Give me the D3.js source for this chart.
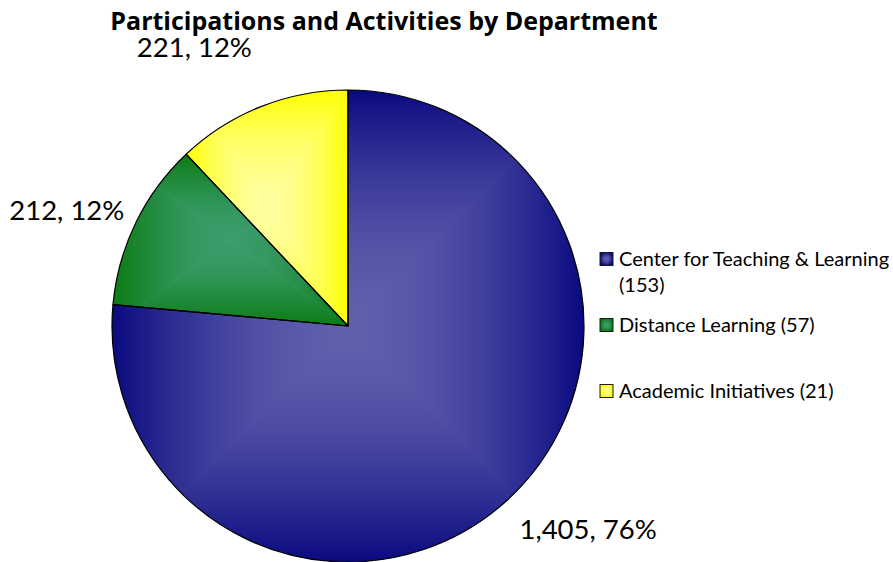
<!DOCTYPE html>
<html>
<head>
<meta charset="utf-8">
<script src="https://cdn.jsdelivr.net/npm/d3@7/dist/d3.min.js"></script>
<style>
  html, body { margin: 0; padding: 0; background: #ffffff; }
  svg { display: block; }
  text { font-family: Lato, "Open Sans", "DejaVu Sans", sans-serif; fill: #000; }
  .title { font-family: "Open Sans", Lato, "DejaVu Sans", sans-serif; font-weight: bold; }
</style>
</head>
<body>
<svg id="chart" width="893" height="562"></svg>
<script>
// Departments, in drawing order (clockwise from 12 o'clock)
const departments = ["Center for Teaching & Learning", "Distance Learning", "Academic Initiatives"];
const departmentCounts = [153, 57, 21];
const participations = [1405, 212, 221];

// Slice colours: edge tone and the lighter tone at the gradient centre
const edgeColors = ["#0a0a80", "#0b7a12", "#ffff00"];
const centerColors = ["#6060ae", "#3a9c6c", "#ffffa0"];

const chartTitle = "Participations and Activities by Department";

// Layout
const W = 893, H = 562;
const cx = 348, cy = 326, R = 236;
// radial distance of each data label and a small angular nudge (radians)
const labelRadius = [260, 250, 286];
const labelNudge = [0.02, 0.01, 0.035];

const svg = d3.select("#chart");
const defs = svg.append("defs");

const total = d3.sum(participations);
const fmt = d3.format(",");

const pie = d3.pie().sort(null).value(d => d)(participations);
const arc = d3.arc().innerRadius(0).outerRadius(R);

svg.append("text")
  .attr("class", "title")
  .attr("x", 384).attr("y", 30)
  .attr("text-anchor", "middle")
  .style("font-size", "25px")
  .text(chartTitle);

// Shade profile from the gradient centre (0) out to the edge (1)
const shadeStops = d3.range(0, 1.0001, 0.1);
function addStops(grad, inner, outer) {
  const mix = d3.interpolateRgb(inner, outer);
  shadeStops.forEach(t => {
    grad.append("stop").attr("offset", t).attr("stop-color", mix(Math.pow(t, 1.7)));
  });
}

// Rectangular "path" gradient: the slice's bounding box is split into four
// triangles meeting at its centre, each shaded from the centre to its edge.
function pathGradientFill(parent, id, box, inner, outer) {
  const mx = box.x + box.width / 2, my = box.y + box.height / 2;
  const x0 = box.x, x1 = box.x + box.width, y0 = box.y, y1 = box.y + box.height;
  const parts = [
    { pts: [[x0, y0], [x1, y0], [mx, my]], to: [mx, y0] },
    { pts: [[x1, y0], [x1, y1], [mx, my]], to: [x1, my] },
    { pts: [[x1, y1], [x0, y1], [mx, my]], to: [mx, y1] },
    { pts: [[x0, y1], [x0, y0], [mx, my]], to: [x0, my] }
  ];
  parts.forEach((p, k) => {
    const gid = `${id}-g${k}`;
    const lg = defs.append("linearGradient")
      .attr("id", gid)
      .attr("gradientUnits", "userSpaceOnUse")
      .attr("x1", mx).attr("y1", my)
      .attr("x2", p.to[0]).attr("y2", p.to[1]);
    addStops(lg, inner, outer);
    // slightly enlarged to avoid hairline seams between triangles
    const grown = p.pts.map(q => [mx + (q[0] - mx) * 1.01, my + (q[1] - my) * 1.01]);
    parent.append("polygon")
      .attr("points", grown.map(q => q.join(",")).join(" "))
      .attr("fill", `url(#${gid})`)
      .attr("stroke", `url(#${gid})`)
      .attr("stroke-width", 0.8);
  });
}

pie.forEach((d, i) => {
  const pathD = arc(d);
  const tmp = svg.append("path").attr("d", pathD).attr("fill", "none");
  const box = tmp.node().getBBox();
  tmp.remove();

  const clipId = `slice-clip-${i}`;
  defs.append("clipPath").attr("id", clipId)
    .attr("transform", `translate(${cx},${cy})`)
    .append("path").attr("d", pathD);

  const fillG = svg.append("g").attr("clip-path", `url(#${clipId})`)
    .append("g").attr("transform", `translate(${cx},${cy})`);
  pathGradientFill(fillG, `slice-${i}`, box, centerColors[i], edgeColors[i]);
});

// Outlines on top
svg.append("g").attr("transform", `translate(${cx},${cy})`)
  .selectAll("path").data(pie).join("path")
  .attr("d", arc)
  .attr("fill", "none")
  .attr("stroke", "#000")
  .attr("stroke-width", 1.2)
  .attr("stroke-linejoin", "round");

// Data labels: "value, percent"
const labelSize = 27.5;
svg.append("g").attr("transform", `translate(${cx},${cy})`)
  .selectAll("text").data(pie).join("text")
  .each(function (d, i) {
    const a = (d.startAngle + d.endAngle) / 2 + labelNudge[i];
    const s = Math.sin(a), c = Math.cos(a);
    const r = labelRadius[i];
    const x = s * r, y = -c * r;
    const capH = labelSize * 0.72;
    d3.select(this)
      .attr("x", x)
      .attr("y", y - c * capH * 0.5 + capH / 2)
      .attr("text-anchor", s >= 0 ? "start" : "end")
      .style("font-size", labelSize + "px")
      .text(`${fmt(d.value)}, ${Math.round(d.value / total * 100)}%`);
  });

// Legend
const legendX = 600, legendSize = 13, legendFont = 20;
const legendRows = [
  { lines: [departments[0], `(${departmentCounts[0]})`], y: 259 },
  { lines: [`${departments[1]} (${departmentCounts[1]})`], y: 325 },
  { lines: [`${departments[2]} (${departmentCounts[2]})`], y: 391 }
];
const legend = svg.append("g");
legendRows.forEach((row, i) => {
  const gid = `legend-grad-${i}`;
  const rg = defs.append("radialGradient").attr("id", gid);
  addStops(rg, centerColors[i], edgeColors[i]);
  legend.append("rect")
    .attr("x", legendX).attr("y", row.y - legendSize / 2)
    .attr("width", legendSize).attr("height", legendSize)
    .attr("fill", `url(#${gid})`)
    .attr("stroke", "#1a1a1a").attr("stroke-width", 1);
  const t = legend.append("text")
    .attr("x", legendX + legendSize + 6)
    .attr("y", row.y + legendFont * 0.36)
    .style("font-size", legendFont + "px");
  row.lines.forEach((ln, k) => {
    t.append("tspan")
      .attr("x", legendX + legendSize + 6)
      .attr("dy", k === 0 ? 0 : 26)
      .text(ln);
  });
});
</script>
</body>
</html>
